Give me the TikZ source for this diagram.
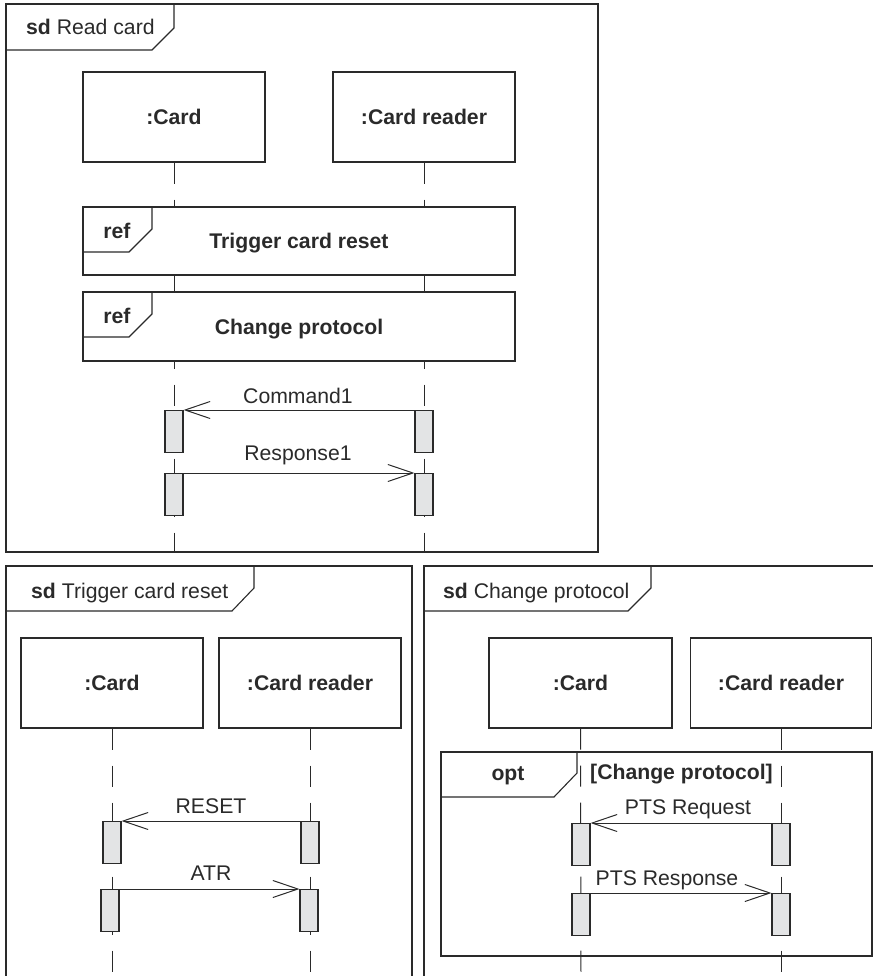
\documentclass[tikz,border=0pt]{standalone}
\usepackage{fontspec}
\setmainfont{Liberation Sans}
\usetikzlibrary{arrows.meta}
\definecolor{ink}{HTML}{2A2A2A}
\definecolor{actfill}{HTML}{E3E4E5}
\newcommand{\fsz}{\fontsize{21.2}{25}\selectfont}
\begin{document}
\begin{tikzpicture}[x=1pt,y=-1pt,
  font=\fsz, text=ink,
  frame/.style={draw=ink, line width=1.4pt},
  tagline/.style={draw=ink, line width=1.1pt},
  head/.style={draw=ink, line width=1.1pt, fill=white, minimum width=182pt,
    minimum height=90pt, inner sep=0pt, text depth=0pt, font=\fsz\bfseries},
  refbox/.style={draw=ink, line width=1.1pt, fill=white, minimum width=432pt,
    inner sep=0pt, text depth=0pt, font=\fsz\bfseries},
  life/.style={draw=ink, line width=1pt, dash pattern=on 21pt off 16pt},
  act/.style={draw=ink, fill=actfill, line width=1.1pt, minimum width=18pt,
    minimum height=42pt, inner sep=0pt, anchor=north},
  msg/.style={draw=ink, line width=1pt, -{Straight Barb[length=25pt,width=17pt]}},
  lbl/.style={anchor=base, inner sep=0pt},
  ttl/.style={anchor=base west, inner sep=0pt}]
\useasboundingbox (0,0) rectangle (873,976);

% ================= Top: sd Read card =================
\draw[frame] (6,4) rectangle (598,552);
\draw[tagline] (6,50) -- (152,50) -- (174,28) -- (174,4);
\node[ttl] (t1) at (26,35) {\textbf{sd} Read card};

\node[head] (c1) at (174,117) {:Card};
\node[head] (r1) at (424,117) {:Card reader};
\coordinate (c1e) at (174,552);
\coordinate (r1e) at (424,552);
\draw[life] (c1.south) -- (c1e);
\draw[life] (r1.south) -- (r1e);

\node[refbox, minimum height=68pt] (ref1) at (299,241) {Trigger card reset};
\draw[tagline] (83,252) -- (129,252) -- (152,229) -- (152,207);
\node[lbl, font=\fsz\bfseries] (ref1t) at (117,238) {ref};

\node[refbox, minimum height=69pt] (ref2) at (299,326.5) {Change protocol};
\draw[tagline] (83,337) -- (129,337) -- (152,314) -- (152,292);
\node[lbl, font=\fsz\bfseries] (ref2t) at (117,323) {ref};

\node[act] (ca1) at (174,410) {};
\node[act] (ra1) at (424,410) {};
\node[act] (ca2) at (174,473) {};
\node[act] (ra2) at (424,473) {};
\draw[msg] (ra1.north west) -- (ca1.north east);
\draw[msg] (ca2.north east) -- (ra2.north west);
\node[lbl] (m1) at (298,403) {Command1};
\node[lbl] (m2) at (298,460) {Response1};

% ================= Bottom left: sd Trigger card reset =================
\draw[frame] (6,976) -- (6,566) -- (412,566) -- (412,976);
\draw[tagline] (6,611) -- (232,611) -- (254,588) -- (254,566);
\node[ttl] (t2) at (31,598) {\textbf{sd} Trigger card reset};

\node[head] (c2) at (112,683) {:Card};
\node[head] (r2) at (310,683) {:Card reader};
\coordinate (c2e) at (112,976);
\coordinate (r2e) at (310,976);
\draw[life] (c2.south) -- (c2e);
\draw[life] (r2.south) -- (r2e);

\node[act] (ca3) at (112,821) {};
\node[act] (ra3) at (310,821) {};
\node[act] (ca4) at (110,889) {};
\node[act] (ra4) at (309,889) {};
\draw[msg] (ra3.north west) -- (ca3.north east);
\draw[msg] (ca4.north east) -- (ra4.north west);
\node[lbl] (m3) at (211,813) {RESET};
\node[lbl] (m4) at (211,880) {ATR};

% ================= Bottom right: sd Change protocol =================
\draw[frame] (424,976) -- (424,566) -- (873,566);
\draw[tagline] (424,611) -- (628,611) -- (651,588) -- (651,566);
\node[ttl] (t3) at (443,598) {\textbf{sd} Change protocol};

\node[head, minimum width=183pt] (c3) at (580.5,683) {:Card};
\node[head, minimum width=181pt] (r3) at (781,683) {:Card reader};
\coordinate (c3e) at (581,976);
\coordinate (r3e) at (781,976);
\draw[life] (c3.south) -- (c3e);
\draw[life] (r3.south) -- (r3e);

\draw[tagline] (441,752) rectangle (872,956);
\draw[tagline] (441,797) -- (554,797) -- (577,773) -- (577,752);
\node[lbl, font=\fsz\bfseries] (optt) at (508,780) {opt};
\node[ttl, font=\fsz\bfseries] (guard) at (590,779) {[Change protocol]};

\node[act] (ca5) at (581,823) {};
\node[act] (ra5) at (781,823) {};
\node[act] (ca6) at (581,893) {};
\node[act] (ra6) at (781,893) {};
\draw[msg] (ra5.north west) -- (ca5.north east);
\draw[msg] (ca6.north east) -- (ra6.north west);
\node[lbl] (m5) at (688,814) {PTS Request};
\node[lbl] (m6) at (667,885) {PTS Response};
\end{tikzpicture}
\end{document}
